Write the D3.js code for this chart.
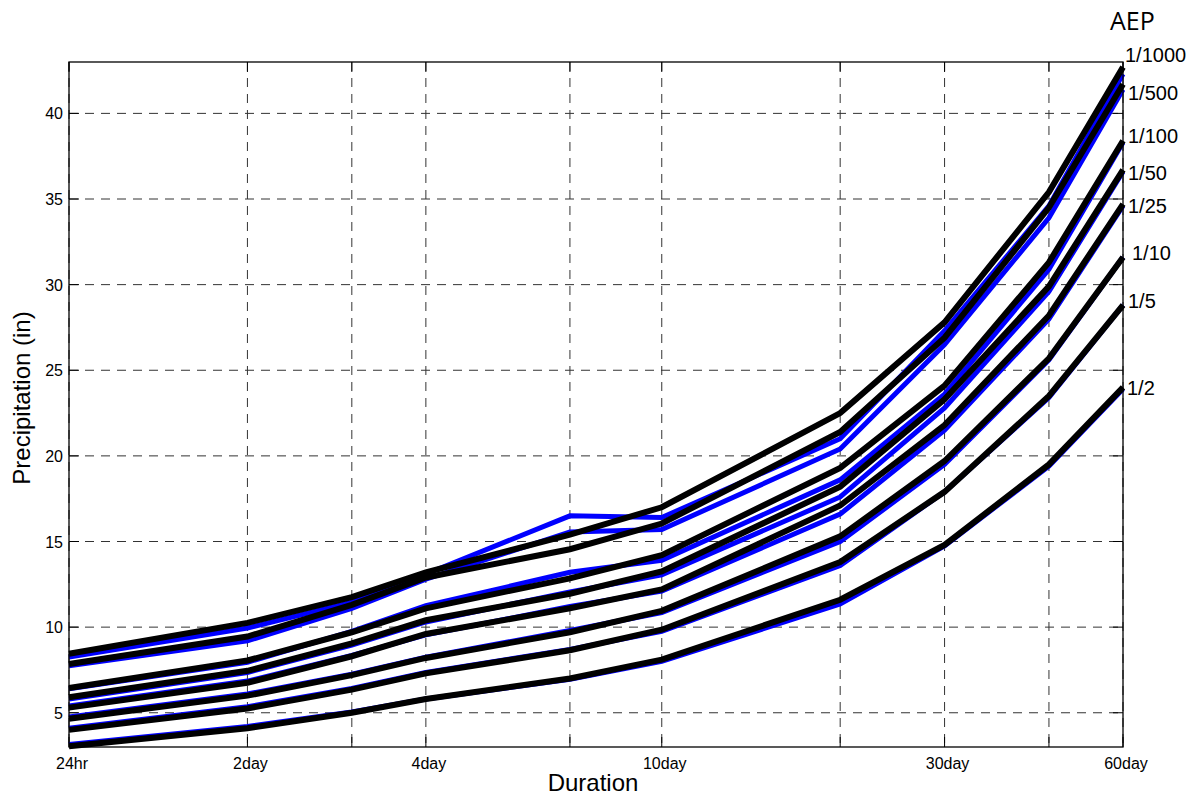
<!DOCTYPE html>
<html>
<head>
<meta charset="utf-8">
<script src="https://cdn.jsdelivr.net/npm/d3@7"></script>
<style>
html,body{margin:0;padding:0;background:#fff;}
svg{display:block;}
</style>
</head>
<body>
<svg id="chart" width="1196" height="795"></svg>
<script>
// ---- data ----
const durations = [1, 2, 3, 4, 7, 10, 20, 30, 45, 60];            // days
const durationLabels = ["24hr", "2day", "", "4day", "", "10day", "", "30day", "", "60day"];
const yTicks = [5, 10, 15, 20, 25, 30, 35, 40];
const aepLabels = ["1/1000", "1/500", "1/100", "1/50", "1/25", "1/10", "1/5", "1/2"];

// black curves (one per AEP)
const black1000 = [8.45, 10.25, 11.75, 13.2, 15.4, 17.0, 22.5, 27.8, 35.4, 42.7];
const black500  = [7.85, 9.45, 11.3, 12.9, 14.55, 16.05, 21.4, 26.9, 34.5, 41.7];
const black100  = [6.45, 8.05, 9.7, 11.1, 12.85, 14.2, 19.3, 24.1, 31.3, 38.4];
const black50   = [5.9, 7.45, 9.05, 10.4, 11.95, 13.25, 18.2, 23.3, 29.9, 36.7];
const black25   = [5.3, 6.75, 8.3, 9.6, 11.1, 12.2, 17.1, 21.8, 28.2, 34.7];
const black10   = [4.65, 6.0, 7.2, 8.2, 9.7, 10.95, 15.3, 19.7, 25.7, 31.6];
const black5    = [4.0, 5.25, 6.35, 7.3, 8.65, 9.85, 13.8, 17.9, 23.5, 28.8];
const black2    = [3.05, 4.1, 5.0, 5.8, 7.0, 8.1, 11.6, 14.8, 19.5, 24.0];

// blue curves (one per AEP)
const blue1000 = [8.25, 9.95, 11.45, 13.1, 16.5, 16.4, 21.0, 27.3, 34.6, 42.3];
const blue500  = [7.75, 9.2, 11.1, 12.8, 15.55, 15.7, 20.4, 26.5, 33.9, 41.4];
const blue100  = [6.4, 7.95, 9.75, 11.25, 13.2, 13.9, 18.6, 23.6, 30.9, 38.3];
const blue50   = [5.8, 7.35, 8.95, 10.3, 12.05, 13.05, 17.6, 22.8, 29.6, 36.6];
const blue25   = [5.4, 6.85, 8.35, 9.55, 11.2, 12.1, 16.6, 21.5, 28.0, 34.6];
const blue10   = [4.75, 6.1, 7.25, 8.25, 9.8, 10.85, 15.0, 19.5, 25.6, 31.6];
const blue5    = [4.1, 5.35, 6.42, 7.35, 8.7, 9.75, 13.6, 17.9, 23.4, 28.8];
const blue2    = [3.15, 4.2, 5.05, 5.8, 6.95, 8.0, 11.35, 14.75, 19.4, 23.9];

const blackSeries = [black1000, black500, black100, black50, black25, black10, black5, black2];
const blueSeries  = [blue1000, blue500, blue100, blue50, blue25, blue10, blue5, blue2];

// ---- layout ----
const L = 69, R = 1123, T = 62, B = 747;
const svg = d3.select("#chart");
const x = d3.scaleLog().domain([1, 60]).range([L, R]);
const y = d3.scaleLinear().domain([3, 43]).range([B, T]);
const font = "'Liberation Sans', Arial, sans-serif";

// grid
const grid = svg.append("g");
grid.selectAll("line.gx").data(durations).enter().append("line")
  .attr("x1", d => x(d)).attr("x2", d => x(d)).attr("y1", T).attr("y2", B)
  .attr("stroke", "#333").attr("stroke-width", 1).attr("stroke-dasharray", "9,7");
grid.selectAll("line.gy").data(yTicks).enter().append("line")
  .attr("y1", d => y(d)).attr("y2", d => y(d)).attr("x1", L).attr("x2", R)
  .attr("stroke", "#333").attr("stroke-width", 1).attr("stroke-dasharray", "9,7");

// inner tick marks
const tk = svg.append("g").attr("stroke", "#000").attr("stroke-width", 1);
durations.forEach(d => {
  tk.append("line").attr("x1", x(d)).attr("x2", x(d)).attr("y1", B).attr("y2", B - 10);
  tk.append("line").attr("x1", x(d)).attr("x2", x(d)).attr("y1", T).attr("y2", T + 10);
});
yTicks.forEach(d => {
  tk.append("line").attr("x1", L).attr("x2", L + 10).attr("y1", y(d)).attr("y2", y(d));
  tk.append("line").attr("x1", R).attr("x2", R - 10).attr("y1", y(d)).attr("y2", y(d));
});

// lines
const line = d3.line().x((d, i) => x(durations[i])).y(d => y(d));
const plot = svg.append("g");
plot.selectAll("path.blue").data(blueSeries).enter().append("path")
  .attr("d", line).attr("fill", "none").attr("stroke", "#0000ff").attr("stroke-width", 5);
plot.selectAll("path.black").data(blackSeries).enter().append("path")
  .attr("d", line).attr("fill", "none").attr("stroke", "#000").attr("stroke-width", 6);

// axes box
svg.append("rect").attr("x", L).attr("y", T).attr("width", R - L).attr("height", B - T)
  .attr("fill", "none").attr("stroke", "#000").attr("stroke-width", 1.3);

// tick labels
svg.append("g").selectAll("text").data(durations).enter().append("text")
  .attr("x", d => x(d) + 3).attr("y", 769).attr("text-anchor", "middle")
  .attr("font-family", font).attr("font-size", 16).attr("fill", "#000")
  .text((d, i) => durationLabels[i]);
svg.append("g").selectAll("text").data(yTicks).enter().append("text")
  .attr("x", L - 6).attr("y", d => y(d) + 6).attr("text-anchor", "end")
  .attr("font-family", font).attr("font-size", 16).attr("fill", "#000")
  .text(d => d);

// axis titles
svg.append("text").attr("x", 593).attr("y", 791).attr("text-anchor", "middle")
  .attr("font-family", font).attr("font-size", 24).text("Duration");
svg.append("text").attr("transform", "translate(30,398) rotate(-90)").attr("text-anchor", "middle")
  .attr("font-family", font).attr("font-size", 24).text("Precipitation (in)");

// AEP labels
const labelPos = [[1125, 62], [1128, 100], [1128, 143], [1128, 180], [1128, 213], [1132, 260], [1128, 308], [1127, 395]];
svg.append("g").selectAll("text").data(aepLabels).enter().append("text")
  .attr("x", (d, i) => labelPos[i][0]).attr("y", (d, i) => labelPos[i][1])
  .attr("font-family", font).attr("font-size", 20).attr("fill", "#000")
  .text(d => d);
svg.append("text").attr("x", 1110).attr("y", 30)
  .attr("font-family", "'Open Sans', sans-serif").attr("font-size", 25).attr("fill", "#000")
  .text("AEP");
</script>
</body>
</html>
